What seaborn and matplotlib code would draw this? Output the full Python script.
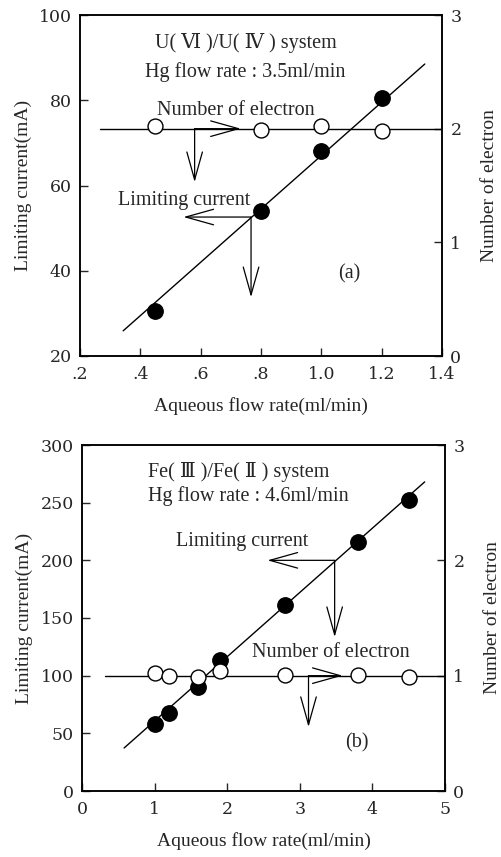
import matplotlib
matplotlib.use("Agg")
import matplotlib.pyplot as plt
import seaborn as sns
import pandas as pd

# ---------------- data ----------------
# Panel (a): U(VI)/U(IV)
a_flow = [0.45, 0.80, 1.00, 1.20]
a_current = [30.5, 54.0, 68.0, 80.5]
a_electron = [2.02, 1.99, 2.02, 1.98]
a_fit_x = [0.343, 1.343]
a_fit_y = [25.9, 88.5]
a_nline_x = [0.267, 1.40]
a_nline_y = [2.0, 2.0]

# Panel (b): Fe(III)/Fe(II)
b_flow = [1.0, 1.2, 1.6, 1.9, 2.8, 3.8, 4.5]
b_current = [58.0, 68.0, 90.0, 114.0, 161.0, 216.0, 252.0]
b_flow_n = [1.0, 1.2, 1.6, 1.9, 2.8, 3.8, 4.5]
b_electron = [1.02, 1.00, 0.99, 1.04, 1.01, 1.01, 0.99]
b_fit_x = [0.58, 4.72]
b_fit_y = [37.3, 268.0]
b_nline_x = [0.32, 5.0]
b_nline_y = [1.0, 1.0]

a_xticks = [0.2, 0.4, 0.6, 0.8, 1.0, 1.2, 1.4]
a_xticklabels = [".2", ".4", ".6", ".8", "1.0", "1.2", "1.4"]
a_yticks = [20, 40, 60, 80, 100]
b_xticks = [0, 1, 2, 3, 4, 5]
b_yticks = [0, 50, 100, 150, 200, 250, 300]
n_ticks = [0, 1, 2, 3]

sns.set_style("ticks")
plt.rcParams["font.family"] = ["Liberation Serif", "DejaVu Serif", "Noto Sans CJK JP"]
plt.rcParams["axes.linewidth"] = 1.1

FS = 14.5
LFS = 14
TFS = 12.5
TICKFONT = ["DejaVu Serif"]
fig = plt.figure(figsize=(5.01, 8.57), dpi=100)

def setup(ax, ax2):
    for a in (ax, ax2):
        a.tick_params(axis="both", direction="in", length=6, width=1.0, labelsize=TFS)
        a.tick_params(axis="y", pad=6)
        a.tick_params(axis="x", pad=7)
        for s in a.spines.values():
            s.set_linewidth(1.1)
            s.set_color("black")
        for lab in a.get_xticklabels() + a.get_yticklabels():
            lab.set_family(TICKFONT)

arrow_kw = dict(arrowstyle="->,head_length=1.0,head_width=0.28", lw=0.9,
                color="black", mutation_scale=20, shrinkA=0, shrinkB=0)

def arrow(ax, start, end):
    ax.annotate("", xy=end, xytext=start, arrowprops=arrow_kw)

# ---------------- panel (a) ----------------
ax = fig.add_axes([80/501, 1-356/857, 362/501, 341/857])
ax2 = ax.twinx()
da = pd.DataFrame({"flow": a_flow, "current": a_current, "electron": a_electron})
sns.lineplot(x=a_fit_x, y=a_fit_y, ax=ax, color="black", lw=1.0)
sns.scatterplot(data=da, x="flow", y="current", ax=ax, s=125, color="black",
                edgecolor="black", zorder=5)
sns.lineplot(x=a_nline_x, y=a_nline_y, ax=ax2, color="black", lw=1.0)
sns.scatterplot(data=da, x="flow", y="electron", ax=ax2, s=115, facecolor="white",
                edgecolor="black", linewidth=1.0, zorder=5)
ax.set_xlim(0.2, 1.4)
ax.set_ylim(20, 100)
ax2.set_ylim(0, 3)
ax.set_xticks(a_xticks)
ax.set_xticklabels(a_xticklabels)
ax.set_yticks(a_yticks)
ax2.set_yticks(n_ticks)
setup(ax, ax2)
ax.set_xlabel("Aqueous flow rate(ml/min)", fontsize=LFS, labelpad=10)
ax.set_ylabel("Limiting current(mA)", fontsize=LFS, labelpad=5)
ax2.set_ylabel("Number of electron", fontsize=LFS, labelpad=14)
ax.text(0.207, 0.918, "U( Ⅵ )/U( Ⅳ ) system", transform=ax.transAxes, fontsize=FS,
        ha="left", va="center")
ax.text(0.18, 0.833, "Hg flow rate : 3.5ml/min", transform=ax.transAxes, fontsize=FS,
        ha="left", va="center")
ax.text(0.213, 0.721, "Number of electron", transform=ax.transAxes, fontsize=FS,
        ha="left", va="center")
ax.text(0.105, 0.457, "Limiting current", transform=ax.transAxes, fontsize=FS,
        ha="left", va="center")
ax.text(0.743, 0.24, "(a)", transform=ax.transAxes, fontsize=FS, ha="center", va="center")
arrow(ax2, (0.58, 2.0), (0.733, 2.0))
arrow(ax2, (0.58, 2.0), (0.58, 1.53))
arrow(ax, (0.767, 52.6), (0.543, 52.6))
arrow(ax, (0.767, 52.6), (0.767, 33.8))

# ---------------- panel (b) ----------------
bx = fig.add_axes([82/501, 1-791/857, 363/501, 346/857])
bx2 = bx.twinx()
db = pd.DataFrame({"flow": b_flow, "current": b_current})
dn = pd.DataFrame({"flow": b_flow_n, "electron": b_electron})
sns.lineplot(x=b_fit_x, y=b_fit_y, ax=bx, color="black", lw=1.0)
sns.scatterplot(data=db, x="flow", y="current", ax=bx, s=125, color="black",
                edgecolor="black", zorder=5)
sns.lineplot(x=b_nline_x, y=b_nline_y, ax=bx2, color="black", lw=1.0)
sns.scatterplot(data=dn, x="flow", y="electron", ax=bx2, s=115, facecolor="white",
                edgecolor="black", linewidth=1.0, zorder=5)
bx.set_xlim(0, 5)
bx.set_ylim(0, 300)
bx2.set_ylim(0, 3)
bx.set_xticks(b_xticks)
bx.set_yticks(b_yticks)
bx2.set_yticks(n_ticks)
setup(bx, bx2)
bx.set_xlabel("Aqueous flow rate(ml/min)", fontsize=LFS, labelpad=10)
bx.set_ylabel("Limiting current(mA)", fontsize=LFS, labelpad=5)
bx2.set_ylabel("Number of electron", fontsize=LFS, labelpad=14)
bx.text(0.182, 0.922, "Fe( Ⅲ )/Fe( Ⅱ ) system", transform=bx.transAxes, fontsize=FS,
        ha="left", va="center")
bx.text(0.182, 0.853, "Hg flow rate : 4.6ml/min", transform=bx.transAxes, fontsize=FS,
        ha="left", va="center")
bx.text(0.259, 0.72, "Limiting current", transform=bx.transAxes, fontsize=FS,
        ha="left", va="center")
bx.text(0.468, 0.399, "Number of electron", transform=bx.transAxes, fontsize=FS,
        ha="left", va="center")
bx.text(0.758, 0.139, "(b)", transform=bx.transAxes, fontsize=FS, ha="center", va="center")
arrow(bx, (3.48, 200), (2.555, 200))
arrow(bx, (3.48, 200), (3.48, 133.5))
arrow(bx2, (3.12, 1.0), (3.59, 1.0))
arrow(bx2, (3.12, 1.0), (3.12, 0.555))

fig.savefig("out.png", dpi=100)
